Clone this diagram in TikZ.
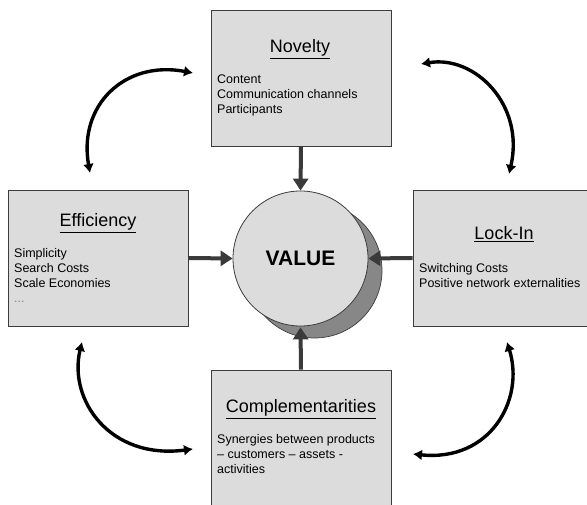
\documentclass[tikz,border=0pt]{standalone}
\usepackage{fontspec}
\setmainfont{Liberation Sans}
\usetikzlibrary{arrows.meta}
\definecolor{boxfill}{HTML}{DCDCDC}
\definecolor{boxline}{HTML}{3C3C3C}
\definecolor{shadowfill}{HTML}{878787}
\definecolor{arrowgray}{HTML}{3A3A3A}
\tikzset{
  panel/.style={draw=boxline, line width=0.9pt, fill=boxfill, rectangle, inner sep=0pt},
  paneltitle/.style={inner sep=0pt, font=\fontsize{18}{21}\selectfont},
  panelbody/.style={inner sep=0pt, anchor=north west, align=left, font=\fontsize{12.5}{15}\selectfont},
  feed/.style={draw=arrowgray, line width=4pt, -{Triangle[width=15pt,length=12pt]}},
  cycle/.style={draw=black, line width=3.4pt, {Latex[width=11pt,length=9pt]}-{Latex[width=11pt,length=9pt]}},
}
\begin{document}
\begin{tikzpicture}[x=1pt,y=-1pt]
\useasboundingbox (0,0) rectangle (587,505);
\clip (0,0) rectangle (587,505);

% four panels
\node[panel, minimum width=180pt, minimum height=136pt] (nov) at (301,78) {};
\node[panel, minimum width=180pt, minimum height=136pt] (eff) at (98,258) {};
\node[panel, minimum width=180pt, minimum height=136pt] (lock) at (503,258) {};
\node[panel, minimum width=180pt, minimum height=150pt] (comp) at (301,445) {};

% panel titles
\node[paneltitle, anchor=base] (novt) at (300,53) {\underline{Novelty}};
\node[paneltitle, anchor=base] (efft) at (98,227) {\underline{Efficiency}};
\node[paneltitle, anchor=base] (lockt) at (504,240) {\underline{Lock-In}};
\node[paneltitle, anchor=base] (compt) at (301,413) {\underline{Complementarities}};

% panel contents
\node[panelbody] (novb) at (217,75) {Content\\Communication channels\\Participants};
\node[panelbody] (effb) at (14,248) {Simplicity\\Search Costs\\Scale Economies\\{\color{gray}...}};
\node[panelbody] (lockb) at (419,263) {Switching Costs\\Positive network externalities};
\node[panelbody] (compb) at (217,434) {Synergies between products\\– customers – assets -\\activities};

% central value disc with its shadow
\fill[shadowfill, draw=boxline, line width=0.7pt] (314.5,270.5) circle (67.5pt);
\node[circle, draw=boxline, line width=0.8pt, fill=boxfill, minimum size=135pt, inner sep=0pt,
      font=\fontsize{21}{24}\selectfont\bfseries] (val) at (300.5,258.5) {VALUE};

% feeds into the value disc
\draw[feed] (nov.south) -- (val.north);
\draw[feed] (eff.east) -- (val.west);
\draw[feed] (lock.west) -- (val.east);
\draw[feed] (comp.north) -- ([yshift=-1pt]val.south);

% cyclic links between neighbouring panels
\coordinate (c1a) at (90,173);  \coordinate (c1b) at (193,73);
\coordinate (c2a) at (421,64);  \coordinate (c2b) at (509,174);
\coordinate (c3a) at (82,342);  \coordinate (c3b) at (193,449);
\coordinate (c4a) at (507,342); \coordinate (c4b) at (413,454);
\draw[cycle] (c1a) .. controls (78,105) and (125,60) .. (c1b);
\draw[cycle] (c2a) .. controls (475,55) and (525,105) .. (c2b);
\draw[cycle] (c3a) .. controls (68,400) and (110,460) .. (c3b);
\draw[cycle] (c4a) .. controls (525,400) and (490,462) .. (c4b);
\end{tikzpicture}
\end{document}
